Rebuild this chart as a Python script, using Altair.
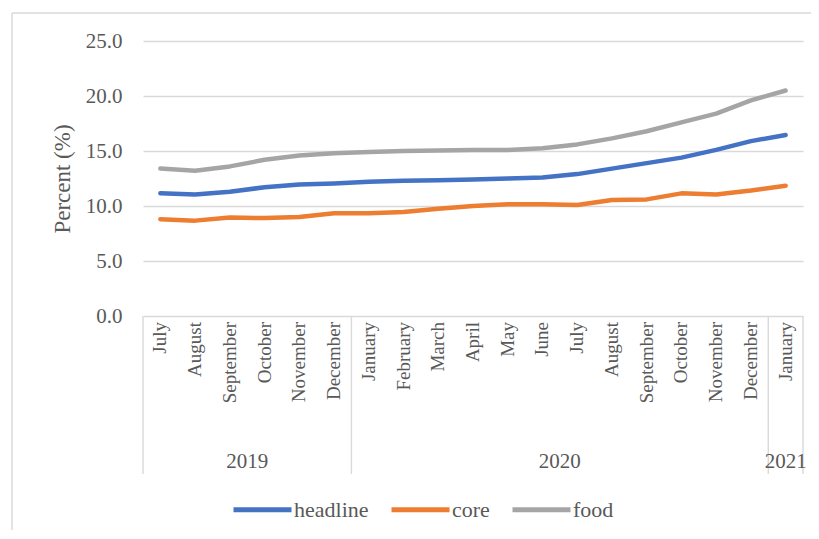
import altair as alt
import pandas as pd

months = ["July", "August", "September", "October", "November", "December",
          "January", "February", "March", "April", "May", "June", "July",
          "August", "September", "October", "November", "December", "January"]
headline = [11.15, 11.05, 11.3, 11.7, 11.95, 12.05, 12.2, 12.3, 12.35, 12.4,
            12.5, 12.6, 12.9, 13.4, 13.9, 14.4, 15.1, 15.9, 16.45]
core = [8.8, 8.67, 8.95, 8.9, 9.0, 9.35, 9.35, 9.45, 9.75, 10.0,
        10.15, 10.15, 10.1, 10.55, 10.6, 11.15, 11.05, 11.4, 11.85]
food = [13.4, 13.2, 13.6, 14.2, 14.6, 14.8, 14.9, 15.0, 15.05, 15.1,
        15.1, 15.25, 15.6, 16.15, 16.8, 17.6, 18.4, 19.6, 20.5]
years = ["2019", "2020", "2021"]
year_start = [0, 6, 18]
year_end = [5, 17, 18]
series = ["headline", "core", "food"]
colors = ["#4472C4", "#ED7D31", "#A5A5A5"]

FONT = "Liberation Serif"
GREY = "#595959"
LINE = "#D9D9D9"

rows = []
for name, vals in zip(series, [headline, core, food]):
    for i, v in enumerate(vals):
        rows.append({"idx": i, "value": v, "series": name})
df = pd.DataFrame(rows)

mdf = pd.DataFrame({"idx": list(range(len(months))), "month": months})
yr = pd.DataFrame({
    "year": years,
    "mid": [(s + e) / 2 for s, e in zip(year_start, year_end)],
})
seps = pd.DataFrame({"pos": [year_start[0] - 0.5] + [e + 0.5 for e in year_end]})

xscale = alt.Scale(domain=[-0.5, len(months) - 0.5], nice=False, zero=False)
yscale = alt.Scale(domain=[0, 25], nice=False)

lines = alt.Chart(df).mark_line(strokeWidth=4.5, strokeCap="round", strokeJoin="round").encode(
    x=alt.X("idx:Q", scale=xscale, axis=None),
    y=alt.Y("value:Q", scale=yscale,
            axis=alt.Axis(values=[0, 5, 10, 15, 20, 25], format=".1f",
                          labelFont=FONT, labelFontSize=21, labelColor=GREY,
                          labelPadding=21, domain=False, ticks=False,
                          gridColor=LINE, gridWidth=1.4,
                          title="Percent (%)", titleFont=FONT, titleFontSize=23,
                          titleFontWeight="normal", titleColor=GREY, titlePadding=11)),
    color=alt.Color("series:N", sort=series,
                    scale=alt.Scale(domain=series, range=colors),
                    legend=alt.Legend(orient="none", legendX=88, legendY=437,
                                      direction="horizontal", title=None,
                                      symbolType="stroke", symbolSize=3364,
                                      symbolStrokeWidth=5, labelFont=FONT,
                                      labelFontSize=22, labelColor=GREY,
                                      labelOffset=0, columnPadding=12)),
)

month_text = alt.Chart(mdf).mark_text(font=FONT, fontSize=19, color=GREY,
                                      angle=270, align="right", baseline="middle").encode(
    x=alt.X("idx:Q", scale=xscale, axis=None),
    y=alt.value(281),
    text="month:N",
)

sep_rules = alt.Chart(seps).mark_rule(color=LINE, strokeWidth=1.4).encode(
    x=alt.X("pos:Q", scale=xscale, axis=None),
    y=alt.value(275),
    y2=alt.value(433),
)

year_text = alt.Chart(yr).mark_text(font=FONT, fontSize=21, color=GREY,
                                    baseline="middle").encode(
    x=alt.X("mid:Q", scale=xscale, axis=None),
    y=alt.value(421),
    text="year:N",
)

border = alt.Chart(pd.DataFrame({"k": [0]})).mark_rule(color=LINE, strokeWidth=1.4).encode(
    x=alt.value(-131), y=alt.value(-28), y2=alt.value(520),
)
border_top = alt.Chart(pd.DataFrame({"k": [0]})).mark_rule(color=LINE, strokeWidth=1.4).encode(
    x=alt.value(-131), x2=alt.value(700), y=alt.value(-28),
)

chart = alt.layer(lines, border, border_top, sep_rules, month_text, year_text).properties(
    width=660, height=275,
    autosize=alt.AutoSizeParams(type="none"),
    padding={"left": 135, "top": 33, "right": 8, "bottom": 214},
).configure_view(stroke=None)

chart.save("out.html", embed_options={"renderer": "svg", "actions": False})
